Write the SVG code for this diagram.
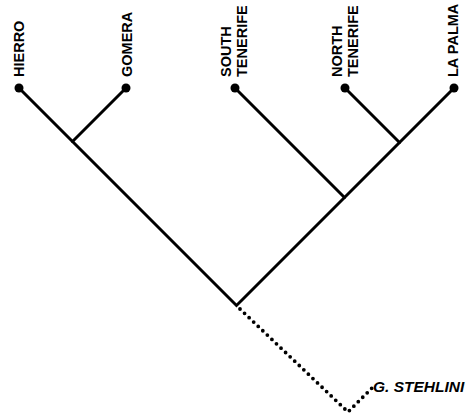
<svg xmlns="http://www.w3.org/2000/svg" width="474" height="420" viewBox="0 0 474 420">
<style>
.lbl{font-family:"Liberation Sans",Arial,sans-serif;font-weight:bold;font-size:14.5px;fill:#000}
.br{stroke:#000;stroke-width:3;fill:none;stroke-linecap:round}
.dot{stroke:#000;stroke-width:3.8;fill:none;stroke-linecap:round;stroke-dasharray:0 6.3}
.tip{fill:#000}
</style>
<rect width="474" height="420" fill="#fff"/>
<g id="connectors">
<path class="br" d="M19,88 L236.5,305.5 L454,88"/>
<path class="br" d="M126,88 L72.5,141.5"/>
<path class="br" d="M235,88 L344.5,197.5"/>
<path class="br" d="M345,88 L399.5,142.5"/>
<path class="dot" d="M240,309 L348,412 L372,388"/>
</g>
<g id="hierro"><circle class="tip" cx="19" cy="88" r="4.5"/><text class="lbl" transform="translate(24,77) rotate(-90)">HIERRO</text></g>
<g id="gomera"><circle class="tip" cx="126" cy="88" r="4.5"/><text class="lbl" transform="translate(132,77) rotate(-90)">GOMERA</text></g>
<g id="south-tenerife"><circle class="tip" cx="235" cy="88" r="4.5"/><text class="lbl" transform="translate(231,77) rotate(-90)">SOUTH</text><text class="lbl" transform="translate(246.5,77) rotate(-90)">TENERIFE</text></g>
<g id="north-tenerife"><circle class="tip" cx="345" cy="88" r="4.5"/><text class="lbl" transform="translate(342,77) rotate(-90)">NORTH</text><text class="lbl" transform="translate(357.5,77) rotate(-90)">TENERIFE</text></g>
<g id="la-palma"><circle class="tip" cx="454" cy="88" r="4.5"/><text class="lbl" transform="translate(458,77) rotate(-90)">LA PALMA</text></g>
<g id="g-stehlini"><text class="lbl" x="373" y="392" font-style="italic" style="font-size:15.5px">G. STEHLINI</text></g>
</svg>
